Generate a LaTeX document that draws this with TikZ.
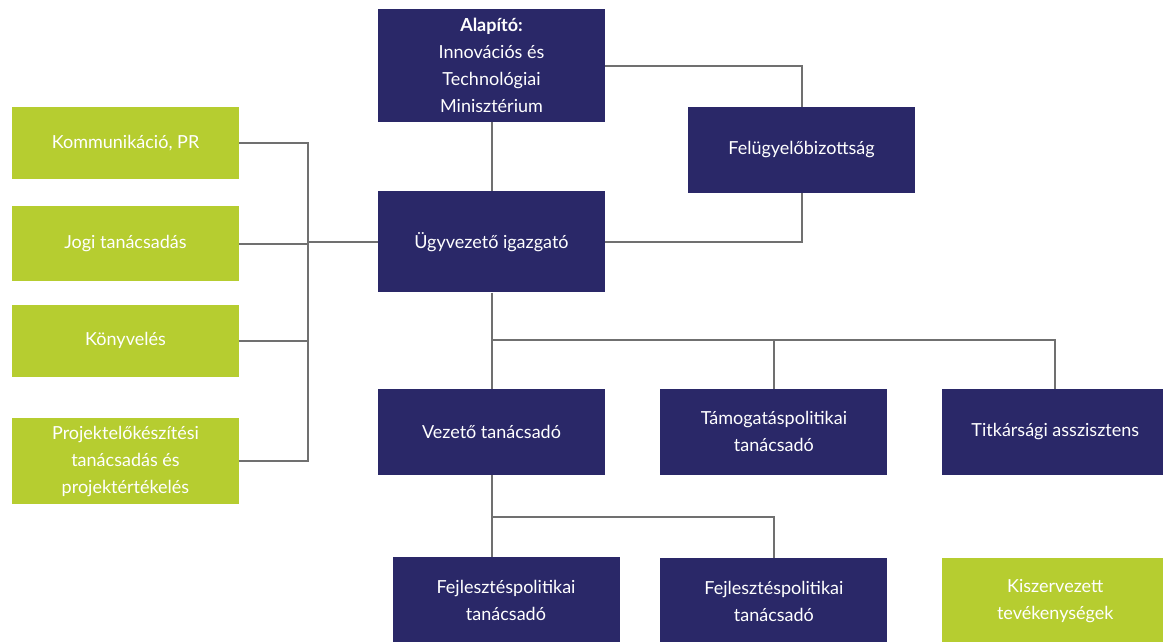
\documentclass[tikz,border=0pt]{standalone}
\usepackage{fontspec}
\setmainfont{Lato}
\usetikzlibrary{positioning}
\definecolor{unitColor}{RGB}{42,40,104}
\definecolor{serviceColor}{RGB}{182,205,48}
\definecolor{lineColor}{RGB}{112,112,112}
\tikzset{unit/.style={fill=unitColor, text=white, align=center, minimum width=227pt, minimum height=86pt, inner sep=0pt, font=\fontsize{18}{27}\selectfont}}
\tikzset{service/.style={unit, fill=serviceColor}}
\tikzset{link/.style={draw=lineColor, line width=2pt}}

\begin{document}
\begin{tikzpicture}[x=1pt, y=-1pt]
	\useasboundingbox (0,0) rectangle (1163,641);
	% Nodes
		\node (alapito) [unit, minimum height=113pt] at (491.5,65.5) {\textbf{Alapító:}\\ Innovációs és\\ Technológiai\\ Minisztérium};
		\node (ugyvezeto) [unit, minimum height=101pt, below=69pt of alapito] {Ügyvezető igazgató};
		\node (felugyelo) [unit] at (801.5,150) {Felügyelőbizottság};
		
		\node (vezeto) [unit, below=96pt of ugyvezeto] {Vezető tanácsadó};
		\node (tamogatas) [unit, right=55pt of vezeto] {Támogatáspolitikai\\ tanácsadó};
		\node (titkarsag) [unit, right=54pt of tamogatas] {Titkársági asszisztens};
		
		\node (fejlesztes) [unit] at (506,600) {Fejlesztéspolitikai\\ tanácsadó};
		\node (fejlesztes2) [unit, below=83pt of tamogatas] {Fejlesztéspolitikai\\ tanácsadó};
		\node (kiszervezett) [service, below=83pt of titkarsag] {Kiszervezett\\ tevékenységek};
		
		\node (kommunikacio) [service, minimum height=72pt] at (125.5,143) {Kommunikáció, PR};
		\node (jogi) [service, minimum height=75pt, below=27pt of kommunikacio] {Jogi tanácsadás};
		\node (konyveles) [service, minimum height=72pt, below=23pt of jogi] {Könyvelés};
		\node (projekt) [service, below=41pt of konyveles] {Projektelőkészítési\\ tanácsadás és\\ projektértékelés};
		
		\coordinate (bus) at (308,0);
		\coordinate (split) at (491.5,340);
		\coordinate (split2) at (491.5,517);
		
		% Connectors
		\begin{scope}[link]
		\draw (alapito) -- (ugyvezeto);
		\draw (alapito.east) -| (felugyelo.north);
		\draw (felugyelo.south) |- (ugyvezeto.east);
		
		\draw (kommunikacio.east) -| (bus |- projekt.east) -- (projekt.east);
		\draw (jogi.east) -- (jogi.east -| bus);
		\draw (konyveles.east) -- (konyveles.east -| bus);
		\draw (bus |- ugyvezeto.west) -- (ugyvezeto.west);
		
		\draw (ugyvezeto) -- (vezeto);
		\draw (split) -| (tamogatas.north);
		\draw (split) -| (titkarsag.north);
		
		\draw (vezeto.south) -- (vezeto.south |- fejlesztes.north);
		\draw (split2) -| (fejlesztes2.north);
		\end{scope}
\end{tikzpicture}
\end{document}
